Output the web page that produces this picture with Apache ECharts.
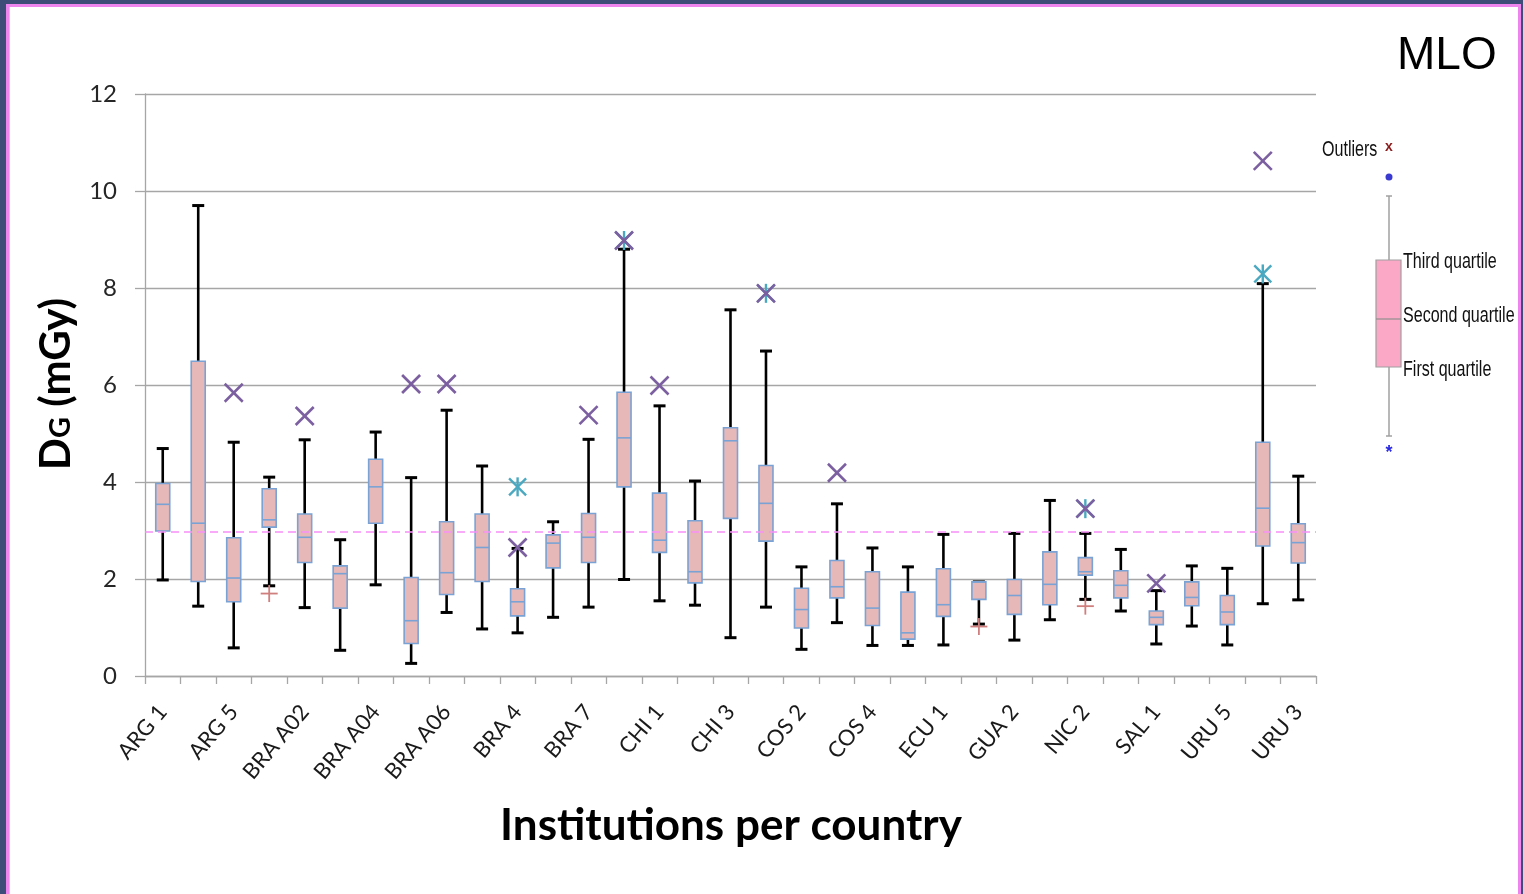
<!DOCTYPE html>
<html>
<head>
<meta charset="utf-8">
<title>MLO – DG per institution</title>
<script src="https://cdn.jsdelivr.net/npm/echarts@6/dist/echarts.min.js"></script>
<style>
  html, body { margin: 0; padding: 0; }
  body { width: 1523px; height: 894px; background: #3e4d78; position: relative; overflow: hidden; }
  #frame {
    position: absolute; left: 6px; top: 4px; width: 1515px; height: 900px;
    box-sizing: border-box; border: 3px solid #ee84ee; border-bottom: none;
    background: #ffffff; box-shadow: inset 1px 0 0 #c3c9de;
  }
  #chart { position: absolute; left: 0; top: 0; width: 1523px; height: 894px; }
</style>
</head>
<body>
<div id="frame"></div>
<div id="chart"></div>
<script>
// Institutions (only every second name is printed on the axis)
const categories = [
  'ARG 1', 'ARG 3', 'ARG 5', 'BRA A01', 'BRA A02', 'BRA A03', 'BRA A04', 'BRA A05',
  'BRA A06', 'BRA 2', 'BRA 4', 'BRA 6', 'BRA 7', 'BRA 8', 'CHI 1', 'CHI 2', 'CHI 3',
  'COS 1', 'COS 2', 'COS 3', 'COS 4', 'COS 5', 'ECU 1', 'GUA 1', 'GUA 2', 'NIC 1',
  'NIC 2', 'NIC 3', 'SAL 1', 'SAL 2', 'URU 5', 'URU 4', 'URU 3'
];

// Glandular dose DG (mGy): whiskers and quartiles per institution
const whiskerLow  = [1.98, 1.44, 0.58, 1.86, 1.41, 0.53, 1.88, 0.26, 1.31, 0.97, 0.89, 1.21, 1.42, 1.99, 1.55, 1.46, 0.79,
                     1.42, 0.55, 1.10, 0.63, 0.63, 0.64, 1.07, 0.74, 1.16, 1.58, 1.34, 0.66, 1.03, 0.64, 1.49, 1.57];
const quartile1   = [2.99, 1.95, 1.53, 3.07, 2.34, 1.40, 3.15, 0.67, 1.68, 1.95, 1.24, 2.23, 2.34, 3.90, 2.55, 1.92, 3.25,
                     2.78, 0.99, 1.61, 1.04, 0.76, 1.23, 1.58, 1.27, 1.47, 2.08, 1.61, 1.06, 1.45, 1.06, 2.68, 2.33];
const median      = [3.54, 3.15, 2.02, 3.22, 2.86, 2.11, 3.90, 1.14, 2.13, 2.65, 1.53, 2.74, 2.86, 4.91, 2.80, 2.15, 4.85,
                     3.56, 1.37, 1.84, 1.40, 0.89, 1.47, 1.94, 1.66, 1.89, 2.15, 1.87, 1.21, 1.62, 1.32, 3.46, 2.75];
const quartile3   = [3.97, 6.49, 2.85, 3.86, 3.34, 2.27, 4.47, 2.03, 3.18, 3.34, 1.80, 2.91, 3.35, 5.85, 3.77, 3.20, 5.12,
                     4.34, 1.81, 2.38, 2.15, 1.73, 2.21, 1.94, 1.99, 2.56, 2.44, 2.17, 1.34, 1.94, 1.66, 4.82, 3.14];
const whiskerHigh = [4.69, 9.70, 4.82, 4.10, 4.87, 2.81, 5.03, 4.09, 5.48, 4.33, 2.63, 3.18, 4.88, 8.80, 5.57, 4.02, 7.55,
                     6.70, 2.25, 3.55, 2.64, 2.25, 2.92, 1.94, 2.94, 3.62, 2.94, 2.61, 1.76, 2.27, 2.22, 8.09, 4.12];

// Individual outlying measurements
const outliersCross = [
  ['ARG 5', 5.84], ['BRA A02', 5.36], ['BRA A05', 6.02], ['BRA A06', 6.02], ['BRA 4', 2.65],
  ['BRA 7', 5.38], ['BRA 8', 8.98], ['CHI 1', 5.99], ['COS 1', 7.89], ['COS 3', 4.19],
  ['NIC 2', 3.45], ['SAL 1', 1.91], ['URU 4', 10.62]
];
const outliersStar = [
  ['BRA 4', 3.90], ['BRA 8', 8.98], ['COS 1', 7.89], ['NIC 2', 3.45], ['URU 4', 8.29]
];
const outliersPlus = [
  ['BRA A01', 1.70], ['GUA 1', 1.02], ['NIC 2', 1.44]
];

// Reference level across all institutions
const referenceLevel = 2.97;

const yTicks = { min: 0, max: 12, interval: 2 };

const boxData = categories.map((c, i) =>
  [i, whiskerLow[i], quartile1[i], median[i], quartile3[i], whiskerHigh[i]]);
const toPoints = list => list.map(([name, v]) => [categories.indexOf(name), v]);

const FONT = 'Lato, "Open Sans", sans-serif';
const KEY_FONT = '22px "Liberation Sans", Arial, sans-serif';
const KEY_SQUEEZE = 0.73;   // condensed lettering in the key

function renderBox(params, api) {
  const idx = api.value(0);
  const x = api.coord([idx, 0])[0];
  const yLow = api.coord([idx, api.value(1)])[1];
  const yQ1 = api.coord([idx, api.value(2)])[1];
  const yMed = api.coord([idx, api.value(3)])[1];
  const yQ3 = api.coord([idx, api.value(4)])[1];
  const yHigh = api.coord([idx, api.value(5)])[1];
  const half = 7, cap = 6;
  const black = { stroke: '#000000', lineWidth: 2.6 };
  const blue = '#7aa2d4';
  return {
    type: 'group',
    children: [
      { type: 'line', shape: { x1: x, y1: yHigh, x2: x, y2: yLow }, style: black },
      { type: 'line', shape: { x1: x - cap, y1: yHigh, x2: x + cap, y2: yHigh }, style: { stroke: '#000', lineWidth: 3 } },
      { type: 'line', shape: { x1: x - cap, y1: yLow, x2: x + cap, y2: yLow }, style: { stroke: '#000', lineWidth: 3 } },
      { type: 'rect', shape: { x: x - half, y: yQ3, width: half * 2, height: yQ1 - yQ3 },
        style: { fill: '#e6b8b7', stroke: blue, lineWidth: 1.6 } },
      { type: 'line', shape: { x1: x - half, y1: yMed, x2: x + half, y2: yMed }, style: { stroke: blue, lineWidth: 1.6 } }
    ]
  };
}

function markerRenderer(kind) {
  return function (params, api) {
    const p = api.coord([api.value(0), api.value(1)]);
    const x = p[0], y = p[1];
    const lines = [];
    let style;
    if (kind === 'cross' || kind === 'star') {
      const r = kind === 'cross' ? 9 : 8.5;
      lines.push([x - r, y - r, x + r, y + r], [x - r, y + r, x + r, y - r]);
      if (kind === 'star') lines.push([x, y - r - 1, x, y + r + 1]);
      style = kind === 'cross'
        ? { stroke: '#7b5fa0', lineWidth: 2.6 }
        : { stroke: '#4aa8c0', lineWidth: 2.4 };
    } else {
      const r = 8.5;
      lines.push([x - r, y, x + r, y], [x, y - r, x, y + r]);
      style = { stroke: '#cf7f7d', lineWidth: 1.8 };
    }
    return {
      type: 'group',
      children: lines.map(l => ({ type: 'line', shape: { x1: l[0], y1: l[1], x2: l[2], y2: l[3] }, style }))
    };
  };
}

function keyText(x, y, text) {
  return { type: 'text', x, y, scaleX: KEY_SQUEEZE,
           style: { text, font: KEY_FONT, fill: '#111', verticalAlign: 'middle' } };
}

const legendGrey = '#a0a0a0';
const chart = echarts.init(document.getElementById('chart'), null, { renderer: 'canvas' });

chart.setOption({
  backgroundColor: 'transparent',
  animation: false,
  grid: { left: 145, right: 207, top: 94, bottom: 218 },
  xAxis: {
    type: 'category',
    data: categories,
    boundaryGap: true,
    axisLine: { lineStyle: { color: '#a6a6a6', width: 1.3 } },
    axisTick: { show: true, interval: 0, length: 8, lineStyle: { color: '#a6a6a6', width: 1.3 } },
    axisLabel: { interval: 1, rotate: 50, fontSize: 22, color: '#1a1a1a', fontFamily: FONT, margin: 32 },
    splitLine: { show: false }
  },
  yAxis: {
    type: 'value',
    min: yTicks.min, max: yTicks.max, interval: yTicks.interval,
    axisLine: { show: true, lineStyle: { color: '#a6a6a6', width: 1.3 } },
    axisTick: { show: true, length: 10, lineStyle: { color: '#a6a6a6', width: 1.3 } },
    axisLabel: { fontSize: 24, color: '#262626', fontFamily: FONT, margin: 28 },
    splitLine: { lineStyle: { color: '#a6a6a6', width: 1.3 } }
  },
  series: [
    {
      type: 'custom', name: 'DG', renderItem: renderBox, data: boxData,
      encode: { x: 0, y: [1, 2, 3, 4, 5] }, z: 3,
      markLine: {
        silent: true, symbol: 'none', label: { show: false },
        lineStyle: { color: '#f78ff7', type: [8, 5], width: 1.6 },
        data: [{ yAxis: referenceLevel }], z: 10
      }
    },
    { type: 'custom', name: 'max outlier', renderItem: markerRenderer('star'), data: toPoints(outliersStar), encode: { x: 0, y: 1 }, z: 4 },
    { type: 'custom', name: 'outlier', renderItem: markerRenderer('cross'), data: toPoints(outliersCross), encode: { x: 0, y: 1 }, z: 5 },
    { type: 'custom', name: 'min outlier', renderItem: markerRenderer('plus'), data: toPoints(outliersPlus), encode: { x: 0, y: 1 }, z: 5 }
  ],
  graphic: [
    // panel title
    { type: 'text', left: 1397, top: 33, style: { text: 'MLO', font: '46px "Liberation Sans", Arial, sans-serif', fill: '#000' } },
    // y axis title with subscript G
    {
      type: 'text', x: 56, y: 384, rotation: Math.PI / 2,
      style: {
        text: '{d|D}{g|G}{d| (mGy)}', align: 'center', verticalAlign: 'middle',
        rich: {
          d: { font: 'bold 42px ' + FONT, fill: '#000' },
          g: { font: 'bold 29px ' + FONT, fill: '#000', padding: [10, 0, 0, 0] }
        }
      }
    },
    // x axis title
    {
      type: 'text', x: 731, y: 826,
      style: { text: 'Institutions per country', font: 'bold 44px ' + FONT, fill: '#000', align: 'center', verticalAlign: 'middle' }
    },
    // key explaining the box plot
    keyText(1322, 150, 'Outliers'),
    { type: 'text', x: 1389, y: 147, style: { text: 'x', font: 'bold 14px "Liberation Sans", Arial, sans-serif', fill: '#8b1a1a', align: 'center', verticalAlign: 'middle' } },
    { type: 'circle', shape: { cx: 1389, cy: 177, r: 3.5 }, style: { fill: '#3a3ad0' } },
    { type: 'line', shape: { x1: 1389, y1: 196, x2: 1389, y2: 436 }, style: { stroke: legendGrey, lineWidth: 1.5 } },
    { type: 'line', shape: { x1: 1386, y1: 196, x2: 1392, y2: 196 }, style: { stroke: legendGrey, lineWidth: 1.5 } },
    { type: 'line', shape: { x1: 1386, y1: 436, x2: 1392, y2: 436 }, style: { stroke: legendGrey, lineWidth: 1.5 } },
    { type: 'rect', shape: { x: 1376, y: 260, width: 25, height: 107 }, style: { fill: '#fba8c6', stroke: legendGrey, lineWidth: 1.2 } },
    { type: 'line', shape: { x1: 1376, y1: 319, x2: 1401, y2: 319 }, style: { stroke: '#909090', lineWidth: 1.2 } },
    keyText(1403, 262, 'Third quartile'),
    keyText(1403, 316, 'Second quartile'),
    keyText(1403, 370, 'First quartile'),
    { type: 'text', x: 1389, y: 453, style: { text: '*', font: 'bold 18px "Liberation Sans", Arial, sans-serif', fill: '#2a2ae0', align: 'center', verticalAlign: 'middle' } }
  ]
});
</script>
</body>
</html>
